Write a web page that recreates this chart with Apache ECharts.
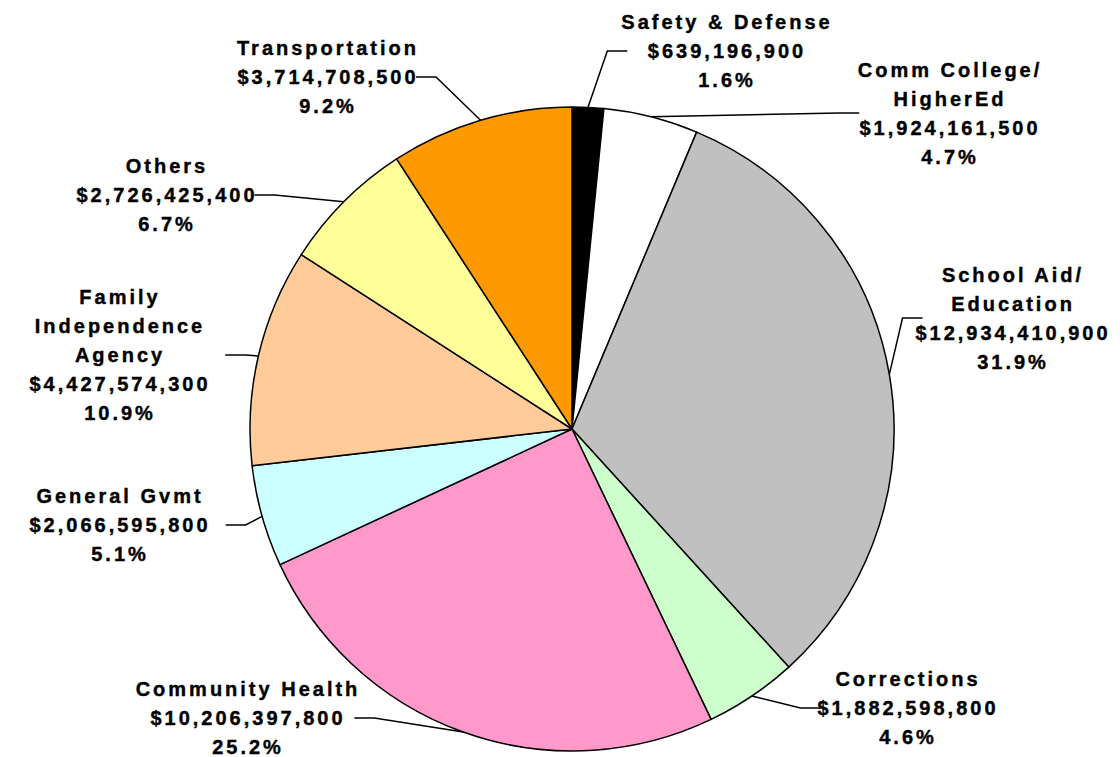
<!DOCTYPE html>
<html>
<head>
<meta charset="utf-8">
<script src="https://cdn.jsdelivr.net/npm/echarts@6/dist/echarts.min.js"></script>
<style>
  html, body { margin: 0; padding: 0; background: #fff; }
  #chart { width: 1120px; height: 757px; }
  #chart text { letter-spacing: 3px; }
</style>
</head>
<body>
<div id="chart"></div>
<script>
const names = [
  'Safety & Defense',
  'Comm College/\nHigherEd',
  'School Aid/\nEducation',
  'Corrections',
  'Community Health',
  'General Gvmt',
  'Family\nIndependence\nAgency',
  'Others',
  'Transportation'
]
const values = [
  639196900, 1924161500, 12934410900, 1882598800, 10206397800,
  2066595800, 4427574300, 2726425400, 3714708500
]
const colors = [
  '#000000', '#ffffff', '#c0c0c0', '#ccffcc', '#ff99cc',
  '#ccffff', '#ffcc99', '#ffff99', '#ff9900'
]

// label centres (layout only)
const labelPos = [
  [727, 51], [950, 113], [1013, 318], [908, 708], [248, 718],
  [120, 525], [120, 355], [167, 195], [328, 77]
]

const total = values.reduce((a, b) => a + b, 0)

const chart = echarts.init(document.getElementById('chart'), null, { renderer: 'svg' })
chart.setOption({
  animation: false,
  series: [
    {
      type: 'pie',
      center: [572, 429],
      radius: 322,
      startAngle: 90,
      clockwise: true,
      data: names.map((n, i) => ({ name: n, value: values[i], itemStyle: { color: colors[i] } })),
      itemStyle: { borderColor: '#000', borderWidth: 1.5 },
      label: {
        show: true,
        position: 'outside',
        color: '#000',
        fontFamily: 'Liberation Sans, Arial, sans-serif',
        fontWeight: 'bold',
        fontSize: 20,
        lineHeight: 29,
        align: 'center',
        overflow: 'none',
        textBorderColor: '#000',
        textBorderWidth: 0.4,
        padding: [0, 18],
        formatter: (p) =>
          p.name + '\n$' + p.value.toLocaleString('en-US') + '\n' + (p.value / total * 100).toFixed(1) + '%'
      },
      labelLine: { show: true, length: 20, length2: 20, lineStyle: { color: '#000', width: 1.5 } },
      labelLayout: (p) => ({
        x: labelPos[p.dataIndex][0],
        y: labelPos[p.dataIndex][1],
        align: 'center',
        verticalAlign: 'middle'
      }),
      emphasis: { disabled: true }
    }
  ]
})
</script>
</body>
</html>
